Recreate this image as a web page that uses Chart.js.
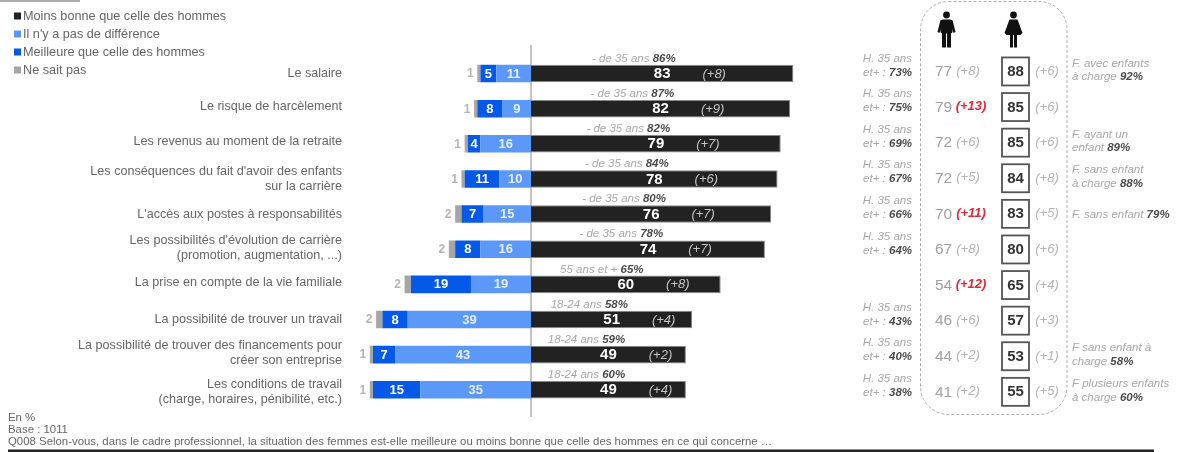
<!DOCTYPE html>
<html lang="fr">
<head>
<meta charset="utf-8">
<title>Situation des femmes dans le cadre professionnel</title>
<script src="https://cdn.jsdelivr.net/npm/chart.js@4"></script>
<style>
    html, body { margin: 0; padding: 0; background: #fff; overflow: hidden; }
    canvas { display: block; }
</style>
</head>
<body>
<canvas id="chart" width="1179" height="452"></canvas>
<script>
const categories = [
    ["Le salaire"],
    ["Le risque de harcèlement"],
    ["Les revenus au moment de la retraite"],
    ["Les conséquences du fait d'avoir des enfants", "sur la carrière"],
    ["L'accès aux postes à responsabilités"],
    ["Les possibilités d'évolution de carrière", "(promotion, augmentation, ...)"],
    ["La prise en compte de la vie familiale"],
    ["La possibilité de trouver un travail"],
    ["La possibilité de trouver des financements pour", "créer son entreprise"],
    ["Les conditions de travail", "(charge, horaires, pénibilité, etc.)"],
];
const worse = [83, 82, 79, 78, 76, 74, 60, 51, 49, 49];
const worseDelta = [8, 9, 7, 6, 7, 7, 8, 4, 2, 4];
const noDifference = [11, 9, 16, 10, 15, 16, 19, 39, 43, 35];
const better = [5, 8, 4, 11, 7, 8, 19, 8, 7, 15];
const dontKnow = [1, 1, 1, 1, 2, 2, 2, 2, 1, 1];

const ageGroups = ["- de 35 ans", "- de 35 ans", "- de 35 ans", "- de 35 ans", "- de 35 ans", "- de 35 ans",
    "55 ans et +", "18-24 ans", "18-24 ans", "18-24 ans"];
const agePercent = [86, 87, 82, 84, 80, 78, 65, 58, 59, 60];

const olderMen = [73, 75, 69, 67, 66, 64, null, 43, 40, 38];
const men = [77, 79, 72, 72, 70, 67, 54, 46, 44, 41];
const menDelta = [8, 13, 6, 5, 11, 8, 12, 6, 2, 2];
const women = [88, 85, 85, 84, 83, 80, 65, 57, 53, 55];
const womenDelta = [6, 6, 6, 8, 5, 6, 4, 3, 1, 5];
const womenNotes = [
    ["F. avec enfants", "à charge ", "92%"],
    null,
    ["F. ayant un", "enfant ", "89%"],
    ["F. sans enfant", "à charge ", "88%"],
    ["", "F. sans enfant ", "79%"],
    null,
    null,
    null,
    ["F sans enfant à", "charge ", "58%"],
    ["F plusieurs enfants", "à charge ", "60%"],
];
const footer = ["En %", "Base : 1011",
    "Q008 Selon-vous, dans le cadre professionnel, la situation des femmes est-elle meilleure ou moins bonne que celle des hommes en ce qui concerne …"];

const FONT = '"Liberation Sans", Arial, sans-serif';
const BLACK = "#222222";
const LIGHT_BLUE = "#5c98f7";
const BLUE = "#0559e9";
const GREY = "#a6a6a6";

// the labels in the picture don't sit exactly on their bars
const labelShift = [0, -2, -2, 0, 0, -1, -2, 0, -2, 2];

function text(ctx, str, x, y, font, color, align) {
    ctx.font = font + " " + FONT;
    ctx.fillStyle = color;
    ctx.textAlign = align || "left";
    ctx.textBaseline = "middle";
    ctx.fillText(str, x, y);
}

// note in two tones: grey italic text, then a dark bold percentage
function mixedNote(ctx, str, pct, x, y, alignRight) {
    ctx.font = "italic 11.5px " + FONT;
    const w1 = ctx.measureText(str).width;
    ctx.font = "italic bold 11.5px " + FONT;
    const w2 = ctx.measureText(pct).width;
    const start = alignRight ? x - w1 - w2 : x;
    text(ctx, str, start, y, "italic 11.5px", "#a8a8a8");
    text(ctx, pct, start + w1, y, "italic bold 11.5px", "#4a4a4a");
}

function drawMan(ctx, cx) {
    ctx.fillStyle = "#111";
    ctx.beginPath();
    ctx.arc(cx, 15, 3.4, 0, Math.PI * 2);
    ctx.fill();
    ctx.beginPath();
    ctx.roundRect(cx - 6, 19.5, 12, 14, 2.5);
    ctx.fill();
    ctx.beginPath();
    ctx.moveTo(cx - 6, 20);
    ctx.lineTo(cx - 9, 32);
    ctx.lineTo(cx - 7, 33);
    ctx.lineTo(cx - 4, 24);
    ctx.closePath();
    ctx.moveTo(cx + 6, 20);
    ctx.lineTo(cx + 9, 32);
    ctx.lineTo(cx + 7, 33);
    ctx.lineTo(cx + 4, 24);
    ctx.closePath();
    ctx.fill();
    ctx.fillRect(cx - 4.5, 32, 4, 15.5);
    ctx.fillRect(cx + 0.5, 32, 4, 15.5);
}

function drawWoman(ctx, cx) {
    ctx.fillStyle = "#111";
    ctx.beginPath();
    ctx.arc(cx, 15, 3.4, 0, Math.PI * 2);
    ctx.fill();
    ctx.beginPath();
    ctx.moveTo(cx - 4, 19.5);
    ctx.lineTo(cx + 4, 19.5);
    ctx.lineTo(cx + 9, 33);
    ctx.lineTo(cx + 7, 35);
    ctx.lineTo(cx - 7, 35);
    ctx.lineTo(cx - 9, 33);
    ctx.closePath();
    ctx.fill();
    ctx.fillRect(cx - 3.5, 34, 3, 13.5);
    ctx.fillRect(cx + 0.5, 34, 3, 13.5);
}

const decorations = {
    id: "decorations",
    beforeDatasetsDraw(chart) {
        const ctx = chart.ctx;
        const x = chart.scales.x;
        // axis line through zero
        ctx.save();
        ctx.strokeStyle = "#8c8c8c";
        ctx.lineWidth = 1;
        ctx.beginPath();
        ctx.moveTo(x.getPixelForValue(0), 45);
        ctx.lineTo(x.getPixelForValue(0), 417);
        ctx.stroke();
        ctx.restore();
    },
    afterDatasetsDraw(chart) {
        const ctx = chart.ctx;
        const x = chart.scales.x;
        const y = chart.scales.y;
        ctx.save();

        // small rule top left
        ctx.fillStyle = "#b0b0b0";
        ctx.fillRect(0, 0, 80, 2);

        // legend
        chart.data.datasets.slice().reverse().forEach((ds, i) => {
            const ly = 16 + i * 18;
            ctx.fillStyle = ds.backgroundColor;
            ctx.fillRect(14, ly - 3.5, 7, 7);
            text(ctx, ds.label, 23, ly, "12.7px", "#666666");
        });

        categories.forEach((lines, i) => {
            const row = y.getPixelForValue(i);
            const panelY = row + (i - 4.5) * 0.47;

            // category label
            lines.forEach((line, k) => {
                text(ctx, line, 342, row + labelShift[i] + (k - (lines.length - 1) / 2) * 15, "12.6px", "#666666", "right");
            });

            // values on the left stack
            const z1 = x.getPixelForValue(-noDifference[i] / 2);
            const z2 = x.getPixelForValue(-noDifference[i] - better[i] / 2);
            const z3 = x.getPixelForValue(-noDifference[i] - better[i] - dontKnow[i]);
            text(ctx, String(noDifference[i]), z1, row + 0.5, "bold 13px", "#e4eeff", "center");
            text(ctx, String(better[i]), z2, row + 0.5, "bold 13px", "#ffffff", "center");
            text(ctx, String(dontKnow[i]), z3 - 7, row + 0.5, "bold 12px", "#b5b5b5", "center");

            // values on the black bar
            const mid = x.getPixelForValue(worse[i] / 2);
            text(ctx, String(worse[i]), mid, row + 0.5, "bold 15px", "#ffffff", "center");
            text(ctx, "(+" + worseDelta[i] + ")", mid + 52, row + 0.5, "italic 13px", "#c4c4c4", "center");

            // age note above the bar
            const ageLabel = ageGroups[i] + " ";
            const agePct = agePercent[i] + "%";
            ctx.font = "italic 11.5px " + FONT;
            const w = ctx.measureText(ageLabel + agePct).width;
            mixedNote(ctx, ageLabel, agePct, x.getPixelForValue(worse[i] * 0.44 - 4) - w / 2, row - 15, false);

            // older men note
            if (olderMen[i] !== null) {
                mixedNote(ctx, "H. 35 ans", "", 912, panelY - 13, true);
                mixedNote(ctx, "et+ : ", olderMen[i] + "%", 912, panelY + 1, true);
            }

            // men column
            text(ctx, String(men[i]), 943.5, panelY + 0.5, "15.5px", "#a0a0a0", "center");
            const bigDelta = menDelta[i] >= 10;
            text(ctx, "(+" + menDelta[i] + ")", bigDelta ? 971 : 968, panelY - 0.5,
                bigDelta ? "italic bold 13px" : "italic 13px", bigDelta ? "#e8283a" : "#b4b4b4", "center");

            // women column
            ctx.strokeStyle = "#555555";
            ctx.lineWidth = 1.8;
            ctx.strokeRect(1002, panelY - 14, 27, 28);
            text(ctx, String(women[i]), 1015.5, panelY + 0.5, "bold 15px", "#333333", "center");
            text(ctx, "(+" + womenDelta[i] + ")", 1047, panelY, "italic 13px", "#b4b4b4", "center");

            // women note
            const note = womenNotes[i];
            if (note) {
                if (note[0]) {
                    mixedNote(ctx, note[0], "", 1072, panelY - 8, false);
                    mixedNote(ctx, note[1], note[2], 1072, panelY + 5.5, false);
                } else {
                    mixedNote(ctx, note[1], note[2], 1072, panelY + 0.5, false);
                }
            }
        });

        // dashed panel around the men / women columns
        ctx.strokeStyle = "#adadad";
        ctx.lineWidth = 1;
        ctx.setLineDash([3, 2]);
        ctx.beginPath();
        ctx.roundRect(920.5, 1.5, 146.5, 413, 28);
        ctx.stroke();
        ctx.setLineDash([]);

        drawMan(ctx, 946.5);
        drawWoman(ctx, 1013.5);

        // footer
        text(ctx, footer[0], 8, 418, "11.4px", "#666666");
        text(ctx, footer[1], 8, 430, "11.4px", "#666666");
        text(ctx, footer[2], 8, 442, "11.4px", "#666666");
        ctx.fillStyle = BLACK;
        ctx.fillRect(8, 449.5, 1146, 2.5);

        ctx.restore();
    },
};

new Chart(document.getElementById("chart"), {
    type: "bar",
    plugins: [decorations],
    data: {
        labels: categories.map(c => c.join(" ")),
        datasets: [
            { label: "Ne sait pas", data: dontKnow.map(v => -v), backgroundColor: GREY, order: 3 },
            { label: "Meilleure que celle des hommes", data: better.map(v => -v), backgroundColor: BLUE, order: 2 },
            { label: "Il n'y a pas de différence", data: noDifference.map(v => -v), backgroundColor: LIGHT_BLUE, order: 1 },
            { label: "Moins bonne que celle des hommes", data: worse, backgroundColor: BLACK, borderColor: "#8a8a8a", borderWidth: 1, order: 0 },
        ],
    },
    options: {
        indexAxis: "y",
        responsive: false,
        animation: false,
        layout: { padding: { top: 56, bottom: 44.7, left: 0, right: 0 } },
        datasets: { bar: { categoryPercentage: 1, barPercentage: 0.5 } },
        plugins: { legend: { display: false }, tooltip: { enabled: false } },
        scales: {
            x: { min: -168, max: 205, stacked: true, display: false },
            y: { stacked: true, display: false },
        },
    },
});
</script>
</body>
</html>
